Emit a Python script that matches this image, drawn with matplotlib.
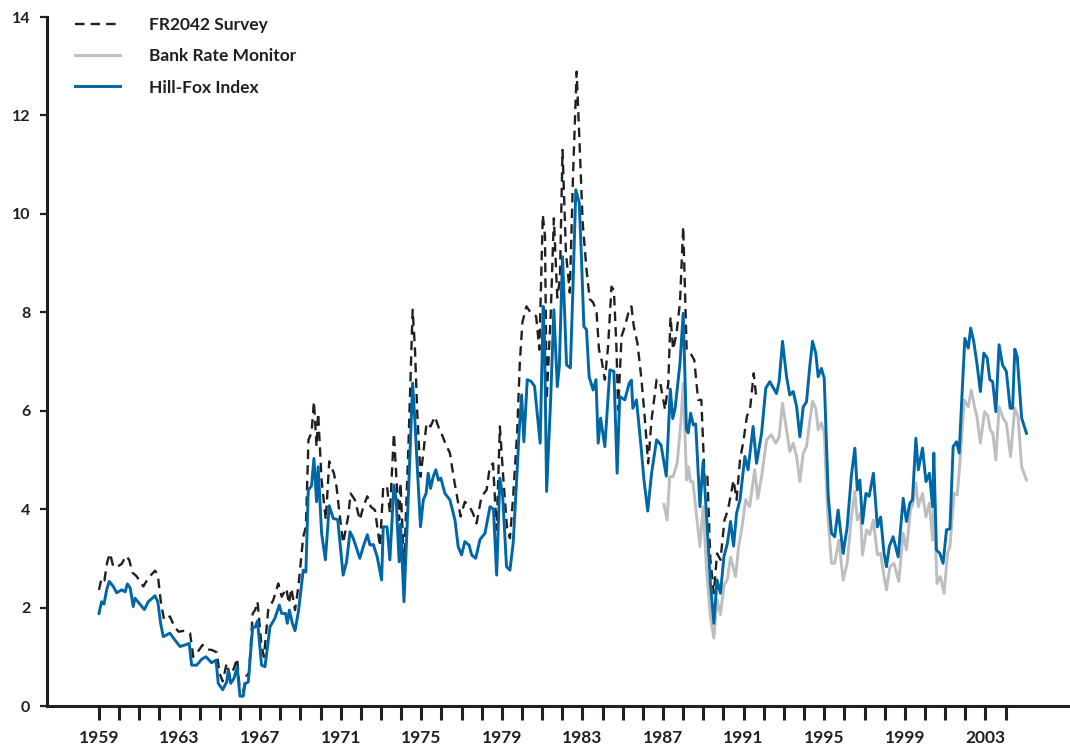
import matplotlib
matplotlib.use("Agg")
import matplotlib.pyplot as plt
from matplotlib.ticker import FixedLocator, FuncFormatter

# --- data (year, percent) ---
fr_years = [1959.00, 1959.13, 1959.27, 1959.41, 1959.55, 1959.71, 1959.92, 1960.13, 1960.34, 1960.50,
            1960.66, 1960.86, 1961.20, 1961.45, 1961.78, 1961.92, 1962.06, 1962.23, 1962.52, 1962.75,
            1962.95, 1963.27, 1963.52, 1963.68, 1963.85, 1964.14, 1964.35, 1964.59, 1964.85, 1964.98,
            1965.14, 1965.34, 1965.50, 1965.70, 1965.86, 1965.97, 1966.16, 1966.30, 1966.45, 1966.63,
            1966.75, 1966.87, 1967.07, 1967.19, 1967.40, 1967.65, 1967.90, 1968.07, 1968.30, 1968.43,
            1968.55, 1968.73, 1968.90, 1969.14, 1969.27, 1969.40, 1969.55, 1969.67, 1969.80, 1969.88,
            1970.05, 1970.26, 1970.43, 1970.66, 1970.79, 1970.92, 1971.12, 1971.37, 1971.49, 1971.70,
            1971.95, 1972.12, 1972.32, 1972.49, 1972.70, 1972.95, 1973.11, 1973.30, 1973.44, 1973.64,
            1973.77, 1973.90, 1973.97, 1974.14, 1974.35, 1974.57, 1974.68, 1974.80, 1974.96, 1975.10,
            1975.26, 1975.46, 1975.67, 1975.87, 1976.00, 1976.22, 1976.42, 1976.60, 1976.80, 1976.95,
            1977.16, 1977.40, 1977.56, 1977.74, 1977.99, 1978.24, 1978.40, 1978.56, 1978.74, 1978.90,
            1979.07, 1979.25, 1979.40, 1979.56, 1979.76, 1979.89, 1980.02, 1980.22, 1980.45, 1980.70,
            1980.86, 1981.03, 1981.14, 1981.22, 1981.42, 1981.58, 1981.75, 1981.88, 1982.01, 1982.18,
            1982.37, 1982.53, 1982.71, 1982.84, 1983.01, 1983.20, 1983.36, 1983.53, 1983.70, 1983.82,
            1983.95, 1984.11, 1984.27, 1984.44, 1984.56, 1984.69, 1984.77, 1984.94, 1985.10, 1985.32,
            1985.43, 1985.55, 1985.73, 1985.93, 1986.10, 1986.26, 1986.43, 1986.68, 1986.85, 1987.10,
            1987.26, 1987.37, 1987.50, 1987.67, 1987.84, 1988.00, 1988.17, 1988.36, 1988.55, 1988.74,
            1988.90, 1989.07, 1989.20, 1989.35, 1989.52, 1989.68, 1989.85, 1990.05, 1990.22, 1990.50,
            1990.65, 1990.82, 1991.00, 1991.16, 1991.33, 1991.50, 1991.64]
fr_vals = [2.36, 2.60, 2.55, 2.93, 3.10, 2.83, 2.83, 2.89, 3.05, 2.97,
           2.71, 2.64, 2.43, 2.60, 2.75, 2.67, 2.15, 1.75, 1.82, 1.61,
           1.51, 1.53, 1.48, 1.00, 1.07, 1.24, 1.15, 1.14, 1.09, 0.67,
           0.50, 0.87, 0.60, 0.77, 0.97, 0.40, 0.30, 0.60, 0.67, 1.88,
           1.95, 2.12, 1.21, 1.00, 1.95, 2.15, 2.49, 2.22, 2.39, 2.08,
           2.39, 1.95, 2.43, 3.44, 3.64, 5.41, 5.55, 6.19, 5.27, 5.95,
           4.59, 3.78, 4.97, 4.73, 4.46, 3.98, 3.31, 3.85, 4.32, 4.19,
           3.78, 4.05, 4.26, 4.05, 3.98, 3.24, 4.46, 4.46, 3.92, 5.54,
           4.59, 3.78, 4.53, 2.83, 5.14, 8.05, 7.30, 5.95, 4.66, 5.14,
           5.75, 5.68, 5.88, 5.65, 5.54, 5.31, 5.14, 4.66, 4.19, 3.85,
           4.15, 4.05, 3.92, 3.71, 4.26, 4.39, 4.86, 4.93, 3.58, 5.68,
           4.63, 3.64, 3.41, 4.26, 5.58, 6.98, 7.80, 8.12, 7.98, 7.92,
           7.24, 9.98, 9.55, 6.22, 7.92, 9.91, 8.30, 8.67, 11.30, 9.21,
           8.40, 10.76, 12.89, 11.60, 9.82, 8.87, 8.27, 8.20, 8.00, 7.24,
           7.03, 6.63, 7.30, 8.52, 8.45, 7.24, 6.02, 7.51, 7.71, 8.05,
           8.12, 7.71, 7.37, 6.63, 5.82, 4.93, 5.82, 6.63, 6.59, 6.02,
           6.56, 7.91, 7.24, 7.58, 8.20, 9.74, 7.24, 7.17, 7.03, 6.22,
           6.22, 4.53, 4.66, 2.97, 2.29, 3.10, 2.97, 3.78, 3.98, 4.59,
           4.19, 5.00, 5.41, 5.88, 6.08, 6.76, 6.22]

brm_years = [1987.04, 1987.20, 1987.33, 1987.50, 1987.70, 1987.88, 1988.00, 1988.17, 1988.27, 1988.36,
             1988.48, 1988.56, 1988.83, 1988.99, 1989.16, 1989.35, 1989.52, 1989.68, 1989.85, 1990.02,
             1990.19, 1990.35, 1990.60, 1990.75, 1990.90, 1991.10, 1991.30, 1991.55, 1991.70, 1991.89,
             1992.14, 1992.37, 1992.60, 1992.76, 1992.93, 1993.13, 1993.29, 1993.46, 1993.63, 1993.79,
             1993.96, 1994.12, 1994.29, 1994.42, 1994.58, 1994.70, 1994.86, 1995.00, 1995.17, 1995.36,
             1995.52, 1995.72, 1995.94, 1996.14, 1996.35, 1996.52, 1996.64, 1996.80, 1996.90, 1997.10,
             1997.26, 1997.44, 1997.64, 1997.80, 1997.97, 1998.09, 1998.26, 1998.46, 1998.70, 1998.92,
             1999.08, 1999.28, 1999.41, 1999.55, 1999.67, 1999.88, 2000.05, 2000.22, 2000.38, 2000.44,
             2000.60, 2000.77, 2000.95, 2001.12, 2001.24, 2001.45, 2001.60, 2001.72, 2001.95, 2002.15,
             2002.30, 2002.46, 2002.58, 2002.75, 2002.96, 2003.12, 2003.24, 2003.37, 2003.52, 2003.68,
             2003.88, 2004.04, 2004.25, 2004.46, 2004.62, 2004.80, 2005.04]
brm_vals = [4.10, 3.78, 4.66, 4.66, 4.93, 5.75, 6.56, 4.59, 4.86, 4.56,
            4.56, 4.26, 3.24, 4.05, 2.76, 1.82, 1.38, 2.16, 1.86, 2.44,
            2.57, 3.03, 2.63, 3.24, 3.58, 4.19, 4.05, 4.80, 4.22, 4.66,
            5.41, 5.51, 5.34, 5.47, 6.15, 5.61, 5.17, 5.34, 5.07, 4.56,
            5.14, 5.27, 5.81, 6.19, 6.05, 5.61, 5.75, 5.54, 3.92, 2.90,
            2.90, 3.37, 2.56, 2.90, 3.84, 4.36, 3.78, 3.92, 3.07, 3.58,
            3.48, 3.78, 3.07, 3.10, 2.63, 2.36, 2.83, 2.90, 2.53, 3.51,
            3.17, 3.98, 4.12, 4.53, 4.05, 4.32, 3.84, 4.12, 3.37, 4.19,
            2.49, 2.63, 2.29, 3.10, 3.24, 4.32, 4.29, 4.86, 6.22, 6.08,
            6.42, 6.08, 5.88, 5.34, 5.98, 5.90, 5.61, 5.54, 5.00, 6.08,
            5.85, 5.75, 5.07, 6.05, 5.88, 4.86, 4.59]

hf_years = [1959.00, 1959.13, 1959.25, 1959.38, 1959.51, 1959.71, 1959.88, 1960.13, 1960.30, 1960.41,
            1960.55, 1960.70, 1960.79, 1961.03, 1961.25, 1961.45, 1961.78, 1961.92, 1962.06, 1962.19,
            1962.52, 1962.77, 1963.02, 1963.27, 1963.48, 1963.60, 1963.85, 1964.10, 1964.31, 1964.59,
            1964.81, 1964.92, 1965.14, 1965.34, 1965.42, 1965.54, 1965.70, 1965.86, 1966.00, 1966.16,
            1966.25, 1966.41, 1966.63, 1966.75, 1966.87, 1967.07, 1967.24, 1967.49, 1967.73, 1967.95,
            1968.07, 1968.26, 1968.35, 1968.45, 1968.60, 1968.73, 1968.90, 1969.14, 1969.27, 1969.39,
            1969.55, 1969.67, 1969.80, 1969.88, 1970.05, 1970.24, 1970.43, 1970.63, 1970.85, 1971.12,
            1971.29, 1971.46, 1971.62, 1971.95, 1972.12, 1972.32, 1972.45, 1972.62, 1972.81, 1973.03,
            1973.11, 1973.30, 1973.44, 1973.64, 1973.75, 1973.90, 1973.97, 1974.14, 1974.35, 1974.57,
            1974.68, 1974.80, 1974.96, 1975.10, 1975.24, 1975.34, 1975.46, 1975.59, 1975.72, 1975.85,
            1975.97, 1976.17, 1976.42, 1976.67, 1976.83, 1977.00, 1977.16, 1977.37, 1977.50, 1977.70,
            1977.91, 1978.16, 1978.41, 1978.58, 1978.74, 1978.90, 1979.04, 1979.23, 1979.40, 1979.56,
            1979.76, 1979.86, 1979.98, 1980.09, 1980.26, 1980.44, 1980.62, 1980.90, 1981.05, 1981.12,
            1981.22, 1981.42, 1981.58, 1981.75, 1981.85, 1982.01, 1982.21, 1982.40, 1982.52, 1982.67,
            1982.84, 1982.95, 1983.07, 1983.20, 1983.33, 1983.53, 1983.67, 1983.78, 1983.90, 1984.11,
            1984.36, 1984.56, 1984.72, 1984.85, 1985.10, 1985.32, 1985.43, 1985.50, 1985.68, 1985.90,
            1986.05, 1986.24, 1986.43, 1986.68, 1986.90, 1987.16, 1987.36, 1987.48, 1987.60, 1987.84,
            1988.00, 1988.16, 1988.25, 1988.37, 1988.50, 1988.62, 1988.83, 1988.99, 1989.16, 1989.35,
            1989.52, 1989.68, 1989.85, 1990.02, 1990.19, 1990.35, 1990.50, 1990.65, 1990.82, 1991.06,
            1991.22, 1991.47, 1991.64, 1991.89, 1992.10, 1992.30, 1992.63, 1992.76, 1992.93, 1993.13,
            1993.29, 1993.46, 1993.63, 1993.79, 1993.96, 1994.12, 1994.29, 1994.42, 1994.58, 1994.70,
            1994.86, 1995.00, 1995.20, 1995.36, 1995.52, 1995.69, 1995.94, 1996.14, 1996.35, 1996.52,
            1996.64, 1996.77, 1996.90, 1997.07, 1997.23, 1997.44, 1997.64, 1997.80, 1997.97, 1998.09,
            1998.23, 1998.42, 1998.67, 1998.92, 1999.08, 1999.25, 1999.38, 1999.55, 1999.67, 1999.88,
            2000.05, 2000.22, 2000.38, 2000.44, 2000.57, 2000.74, 2000.90, 2001.07, 2001.24, 2001.40,
            2001.57, 2001.70, 2001.81, 2001.98, 2002.15, 2002.27, 2002.42, 2002.58, 2002.75, 2002.92,
            2003.09, 2003.22, 2003.36, 2003.52, 2003.68, 2003.85, 2004.04, 2004.23, 2004.35, 2004.46,
            2004.58, 2004.80, 2005.04]
hf_vals = [1.88, 2.12, 2.07, 2.36, 2.53, 2.43, 2.30, 2.36, 2.32, 2.48,
           2.40, 2.02, 2.19, 2.07, 1.96, 2.12, 2.24, 2.12, 1.68, 1.41,
           1.48, 1.34, 1.21, 1.24, 1.27, 0.83, 0.83, 0.95, 1.00, 0.88,
           0.93, 0.46, 0.33, 0.49, 0.73, 0.46, 0.56, 0.79, 0.20, 0.20,
           0.45, 0.49, 1.61, 1.60, 1.73, 0.83, 0.80, 1.61, 1.78, 2.05,
           1.88, 1.88, 1.68, 1.95, 1.68, 1.53, 1.92, 2.76, 2.72, 4.39,
           4.47, 5.03, 4.15, 4.86, 3.51, 2.97, 4.07, 3.81, 3.79, 2.66,
           2.93, 3.54, 3.41, 3.00, 3.24, 3.48, 3.27, 3.28, 3.03, 2.56,
           3.64, 3.64, 2.97, 4.49, 4.20, 2.93, 3.70, 2.12, 4.19, 6.56,
           5.81, 4.86, 3.64, 4.19, 4.32, 4.73, 4.42, 4.66, 4.80, 4.59,
           4.63, 4.32, 4.19, 3.78, 3.24, 3.07, 3.34, 3.27, 3.07, 3.00,
           3.38, 3.51, 4.05, 4.00, 2.66, 4.63, 4.26, 2.83, 2.76, 3.31,
           4.80, 5.61, 6.32, 5.37, 6.63, 6.60, 6.50, 5.34, 8.12, 7.40,
           4.36, 6.22, 8.05, 6.49, 6.90, 9.13, 6.93, 6.87, 8.40, 10.49,
           10.22, 9.10, 7.71, 7.65, 6.69, 6.42, 6.63, 5.34, 5.85, 5.27,
           6.83, 6.80, 4.73, 6.29, 6.22, 6.56, 6.62, 6.05, 6.22, 5.30,
           4.60, 3.96, 4.73, 5.41, 5.30, 4.67, 6.44, 5.84, 6.05, 6.96,
           7.98, 5.62, 5.55, 5.95, 5.71, 5.73, 4.05, 4.97, 3.86, 2.49,
           1.68, 2.56, 2.29, 3.03, 3.30, 3.75, 3.25, 3.92, 4.19, 5.07,
           4.80, 5.68, 4.93, 5.54, 6.46, 6.59, 6.35, 6.59, 7.41, 6.69,
           6.32, 6.39, 6.08, 5.47, 6.08, 6.18, 6.93, 7.41, 7.17, 6.69,
           6.86, 6.66, 4.26, 3.51, 3.44, 3.98, 3.10, 3.64, 4.69, 5.24,
           4.39, 4.59, 3.71, 4.32, 4.26, 4.73, 3.64, 3.84, 3.10, 2.83,
           3.24, 3.44, 3.03, 4.22, 3.75, 4.12, 4.19, 5.44, 4.80, 5.24,
           4.56, 4.73, 4.05, 5.14, 3.17, 3.10, 2.90, 3.58, 3.60, 5.27,
           5.37, 5.14, 6.08, 7.47, 7.27, 7.68, 7.41, 6.96, 6.39, 7.17,
           7.07, 6.63, 6.59, 5.98, 7.34, 6.93, 6.80, 6.05, 6.05, 7.25,
           7.10, 5.85, 5.54]

year_ticks = list(range(1959, 2005))
label_years = list(range(1959, 2005, 4))

INK = "#231f20"
BLUE = "#0067a6"
GREY = "#bcbec0"

plt.rcParams['font.family'] = ['Lato', 'DejaVu Sans']
plt.rcParams['font.weight'] = 'bold'

fig = plt.figure(figsize=(10.7, 7.47), dpi=100)
ax = fig.add_axes([47 / 1070, 41 / 747, 1 - 47 / 1070, 689 / 747])

ax.plot(brm_years, brm_vals, color=GREY, lw=2.1, label="Bank Rate Monitor", zorder=2)
ax.plot(fr_years, fr_vals, color=INK, lw=1.7, ls=(0, (4.0, 2.6)), label="FR2042 Survey", zorder=3)
ax.plot(hf_years, hf_vals, color=BLUE, lw=2.1, label="Hill-Fox Index", zorder=4)

ax.set_xlim(1956.42, 2007.2)
ax.set_ylim(0, 14)

for s in ["top", "right"]:
    ax.spines[s].set_visible(False)
for s in ["left", "bottom"]:
    ax.spines[s].set_linewidth(2.2)
    ax.spines[s].set_color(INK)

ax.xaxis.set_major_locator(FixedLocator(year_ticks))
ax.xaxis.set_major_formatter(FuncFormatter(lambda v, p: str(int(round(v))) if int(round(v)) in label_years else ""))
ax.set_yticks(range(0, 15, 2))
ax.tick_params(axis="x", direction="out", length=10, width=2.2, color=INK, pad=7, labelsize=12.5, labelcolor=INK)
ax.tick_params(axis="y", direction="out", length=5, width=1.6, color=INK, pad=7, labelsize=11.5, labelcolor=INK)

handles, labels = ax.get_legend_handles_labels()
order = [1, 0, 2]
ax.legend([handles[i] for i in order], [labels[i] for i in order],
          loc="upper left", bbox_to_anchor=(0.027, 1.0), frameon=False,
          borderaxespad=0, borderpad=0, fontsize=12.5, handlelength=2.6,
          handletextpad=1.7, labelspacing=0.88, labelcolor=INK)

fig.savefig("out.png", dpi=100)
